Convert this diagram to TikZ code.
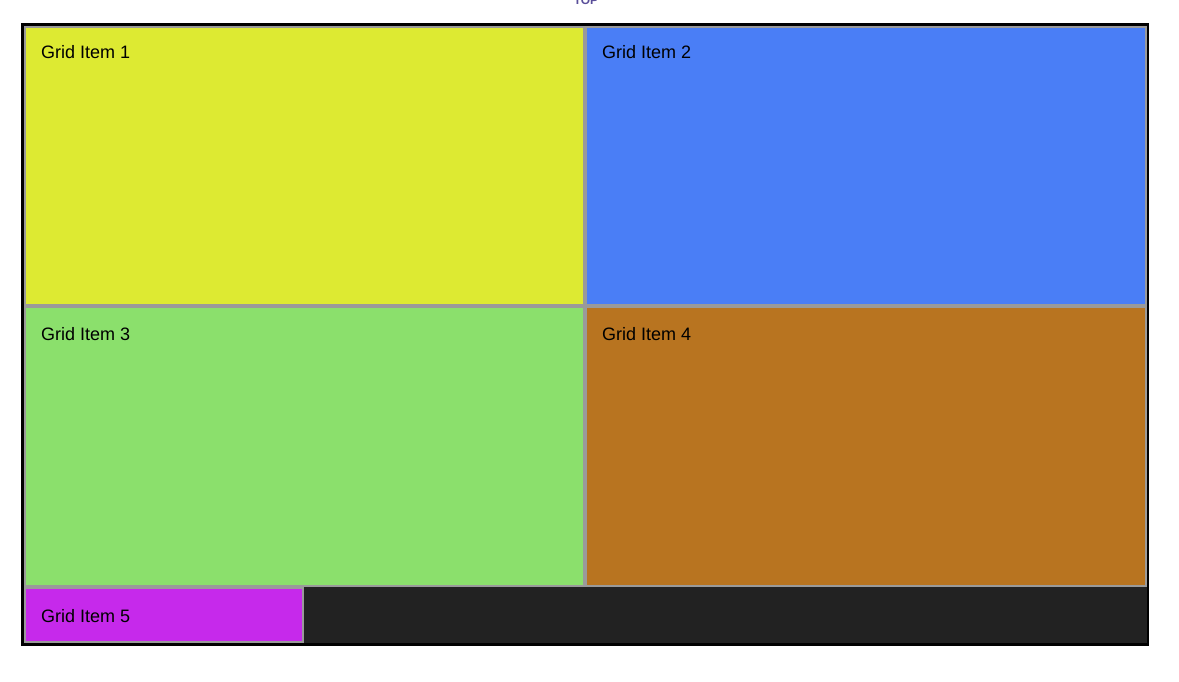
\documentclass[tikz,border=0pt]{standalone}
\usepackage{fontspec}
\setmainfont{Liberation Sans}
\definecolor{itemyellow}{HTML}{DDEA32}
\definecolor{itemblue}{HTML}{4A7EF6}
\definecolor{itemgreen}{HTML}{8BE06C}
\definecolor{itembrown}{HTML}{B87420}
\definecolor{itempurple}{HTML}{C629EB}
\definecolor{gridbg}{HTML}{222222}
\definecolor{itemedge}{HTML}{9A9A9A}
\definecolor{toptext}{HTML}{5A4F9A}
\begin{document}
\begin{tikzpicture}[x=1pt,y=-1pt,every node/.style={font=\fontsize{18}{21}\selectfont},
  griditem/.style={draw=itemedge,line width=2pt,anchor=north west,inner sep=0pt},
  itemlabel/.style={anchor=base west,inner sep=0pt,text=black}]
  \useasboundingbox (0,0) rectangle (1179,682);
  % grid container
  \node[fill=black,anchor=north west,inner sep=0pt,minimum width=1128pt,minimum height=623pt] (grid) at (21,23) {};
  \node[fill=gridbg,anchor=north west,inner sep=0pt,minimum width=1123pt,minimum height=617pt] (gridin) at (24,26) {};
  \node[anchor=base,font=\bfseries\fontsize{12}{14}\selectfont,text=toptext,inner sep=0pt] (top) at (586,5) {TOP};
  % items
  \node[griditem,fill=itemyellow,minimum width=559pt,minimum height=278pt] (item1) at (24,26) {};
  \node[griditem,fill=itemblue,minimum width=560pt,minimum height=278pt] (item2) at (585,26) {};
  \node[griditem,fill=itemgreen,minimum width=559pt,minimum height=279pt] (item3) at (24,306) {};
  \node[griditem,fill=itembrown,minimum width=560pt,minimum height=279pt] (item4) at (585,306) {};
  \node[griditem,fill=itempurple,minimum width=278pt,minimum height=54pt] (item5) at (24,587) {};
  \node[itemlabel] (label1) at ([shift={(17,33)}]item1.north west) {Grid Item 1};
  \node[itemlabel] (label2) at ([shift={(17,33)}]item2.north west) {Grid Item 2};
  \node[itemlabel] (label3) at ([shift={(17,34)}]item3.north west) {Grid Item 3};
  \node[itemlabel] (label4) at ([shift={(17,34)}]item4.north west) {Grid Item 4};
  \node[itemlabel] (label5) at ([shift={(17,35)}]item5.north west) {Grid Item 5};
\end{tikzpicture}
\end{document}
